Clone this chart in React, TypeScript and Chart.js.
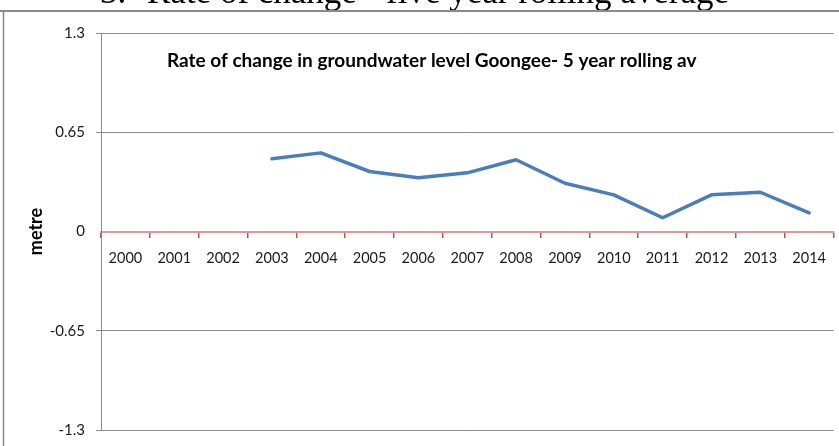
import { useEffect, useRef } from "react";
import { Chart, registerables } from "chart.js";

Chart.register(...registerables);

const years = ["2000", "2001", "2002", "2003", "2004", "2005", "2006", "2007", "2008", "2009", "2010", "2011", "2012", "2013", "2014"];
const rateOfChange: (number | null)[] = [null, null, null, 0.476, 0.515, 0.393, 0.352, 0.384, 0.47, 0.316, 0.24, 0.09, 0.24, 0.257, 0.122];
const yTicks = [-1.3, -0.65, 0, 0.65, 1.3];
const yTickLabels = ["-1.3", "-0.65", "0", "0.65", "1.3"];
const chartTitle = "Rate of change in groundwater level Goongee- 5 year rolling av";
const headingNumber = "3.";
const headingText = "Rate of change - five year rolling average";
const yAxisTitle = "metre";

const decorPlugin = {
  id: "decor",
  beforeDraw(chart: any) {
    const ctx = chart.ctx;
    ctx.save();
    ctx.fillStyle = "#ffffff";
    ctx.fillRect(0, 0, chart.width, chart.height);
    ctx.restore();
  },
  afterDraw(chart: any) {
    const ctx = chart.ctx;
    ctx.save();
    // page heading (cut off at top)
    ctx.fillStyle = "#000000";
    ctx.textBaseline = "alphabetic";
    ctx.textAlign = "left";
    ctx.font = '35px "Liberation Serif"';
    ctx.fillText(headingNumber, 100, 2.5);
    ctx.fillText(headingText, 147, 2.5);
    // outer frame
    ctx.strokeStyle = "#8a8a8a";
    ctx.lineWidth = 2;
    ctx.beginPath();
    ctx.moveTo(0, 11);
    ctx.lineTo(chart.width, 11);
    ctx.stroke();
    ctx.lineWidth = 1.5;
    ctx.beginPath();
    ctx.moveTo(3.5, 11);
    ctx.lineTo(3.5, chart.height);
    ctx.stroke();
    // chart title inside plot
    ctx.font = 'bold 19px Lato';
    ctx.fillStyle = "#000000";
    ctx.fillText(chartTitle, 167, 66.5);
    ctx.restore();
  },
};

export default function App() {
  const ref = useRef<HTMLCanvasElement>(null);

  useEffect(() => {
    const canvas = ref.current;
    if (!canvas) return;
    const chart = new Chart(canvas, {
      type: "line",
      data: {
        labels: years,
        datasets: [
          {
            label: chartTitle,
            data: rateOfChange,
            borderColor: "#4a7ebb",
            backgroundColor: "#4a7ebb",
            borderWidth: 3.5,
            pointRadius: 0,
            pointHoverRadius: 0,
            tension: 0,
            borderJoinStyle: "round",
            borderCapStyle: "round",
            spanGaps: false,
          },
        ],
      },
      options: {
        responsive: false,
        animation: false,
        devicePixelRatio: 1,
        layout: { padding: { left: 0, top: 33, right: 1, bottom: 16 } },
        plugins: {
          legend: { display: false },
          title: { display: false },
          tooltip: { enabled: false },
        },
        scales: {
          x: {
            type: "category",
            position: { y: 0 } as any,
            offset: true,
            grid: {
              offset: true,
              drawOnChartArea: false,
              drawTicks: true,
              tickLength: 5,
              color: "#c0504d",
              lineWidth: 1.5,
            },
            border: { display: true, color: "#dd9a98", width: 2 },
            ticks: {
              color: "#1a1a1a",
              font: { family: "Lato", size: 14.5 },
              padding: 13,
              maxRotation: 0,
              autoSkip: false,
            },
          },
          y: {
            type: "linear",
            position: "left",
            min: -1.3,
            max: 1.3,
            afterBuildTicks(scale: any) {
              scale.ticks = yTicks.map((v) => ({ value: v }));
            },
            afterFit(scale: any) {
              scale.width = 101;
              scale.paddingTop = 0;
              scale.paddingBottom = 0;
            },
            grid: {
              color: (c: any) => (c.tick && c.tick.value === 0 ? "rgba(0,0,0,0)" : "#8c8c8c"),
              lineWidth: 1,
              tickLength: 5,
              drawTicks: true,
            },
            border: { display: true, color: "#8c8c8c", width: 1 },
            ticks: {
              color: "#1a1a1a",
              font: { family: "Lato", size: 15 },
              padding: 11,
              callback: (_v: any, i: number) => yTickLabels[i],
            },
            title: {
              display: true,
              text: yAxisTitle,
              color: "#000000",
              font: { family: "Lato", size: 18, weight: "bold" },
              padding: { top: 25, bottom: 0 },
            },
          },
        },
      },
      plugins: [decorPlugin],
    });
    return () => chart.destroy();
  }, []);

  return (
    <div style={{ position: "fixed", left: 0, top: 0, width: 839, height: 446, overflow: "hidden", background: "#fff" }}>
      <canvas ref={ref} width={839} height={446} style={{ display: "block", width: 839, height: 446 }} />
    </div>
  );
}
